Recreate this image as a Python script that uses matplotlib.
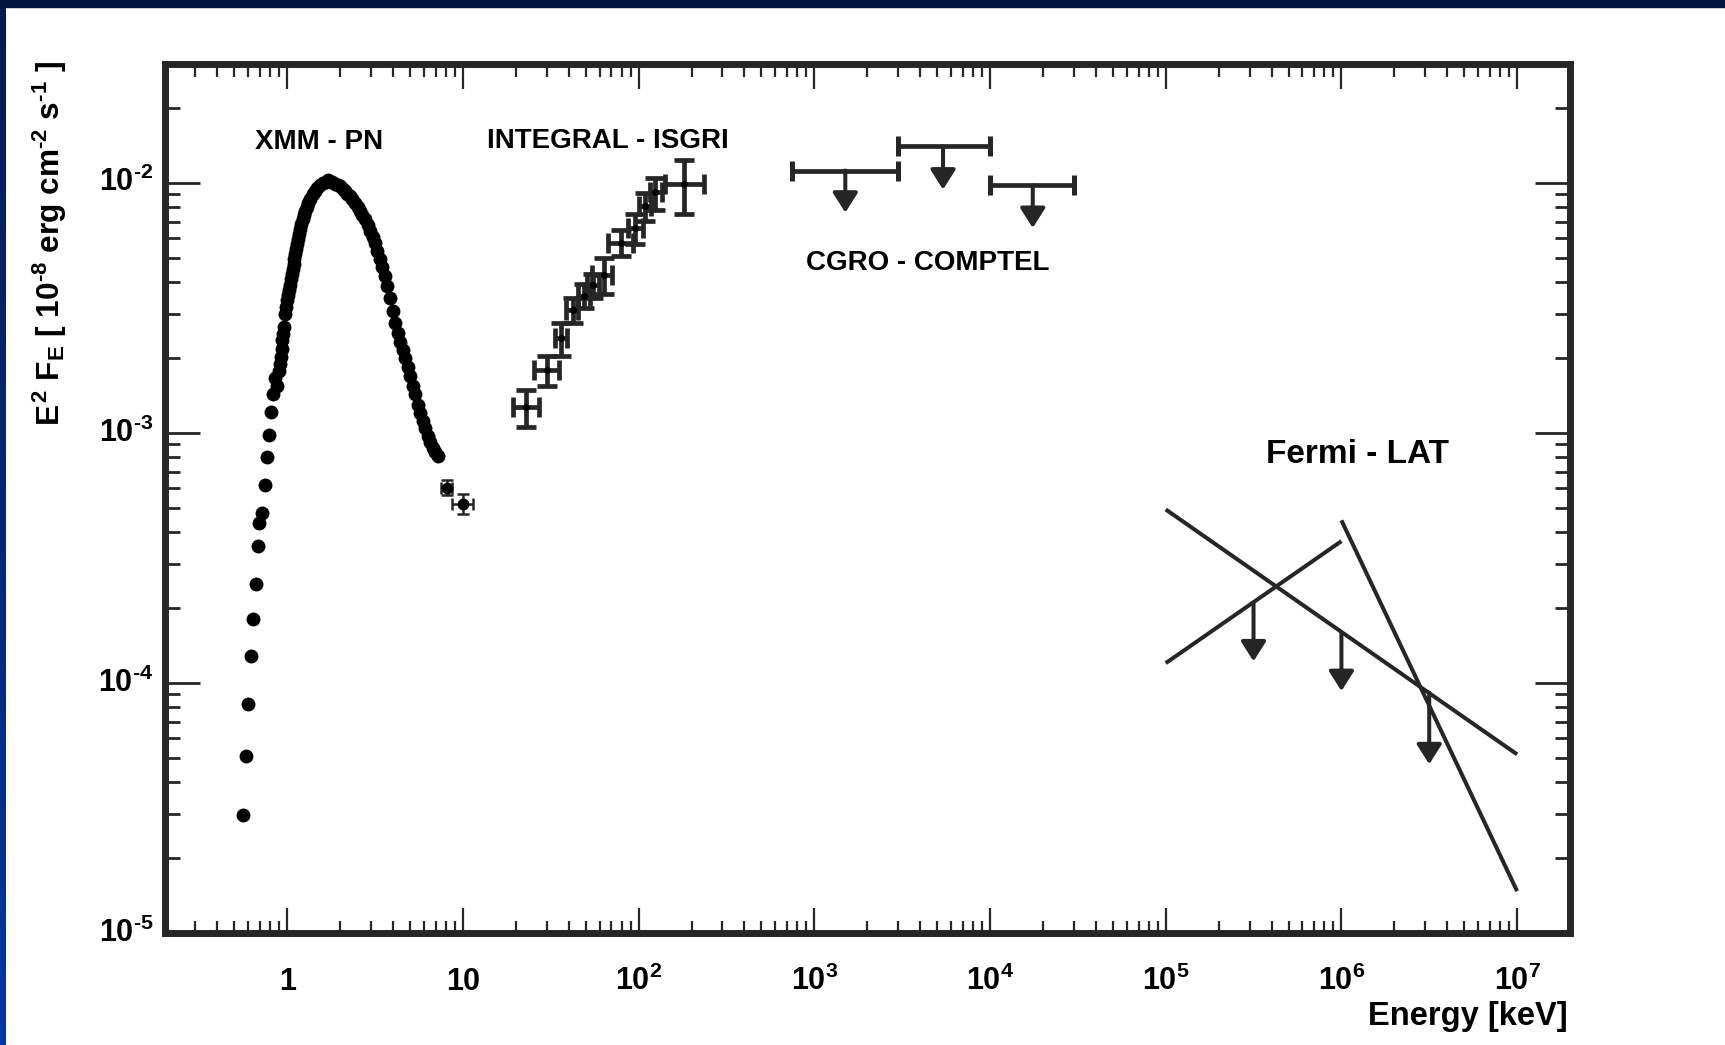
import numpy as np
import matplotlib
matplotlib.use('Agg')
from matplotlib import pyplot as plt
from matplotlib.ticker import LogLocator, NullFormatter, FixedLocator

plt.rcParams['font.family'] = ['Liberation Sans', 'DejaVu Sans']
plt.rcParams['font.weight'] = 'bold'
plt.rcParams['mathtext.fontset'] = 'custom'
plt.rcParams['mathtext.rm'] = 'Liberation Sans:bold'
plt.rcParams['mathtext.it'] = 'Liberation Sans:bold'
plt.rcParams['mathtext.bf'] = 'Liberation Sans:bold'
plt.rcParams['mathtext.sf'] = 'Liberation Sans:bold'

# XMM - PN spectrum (keV, E^2 F_E)
xmm_E = [0.562, 0.580, 0.600, 0.621, 0.640, 0.663, 0.684, 0.693, 0.715, 0.746,
         0.769, 0.790, 0.808, 0.826, 0.851, 0.877, 0.900, 0.911, 0.921, 0.928,
         0.937, 0.948, 0.958, 0.970, 0.984, 1.000, 1.013, 1.027, 1.039, 1.050,
         1.061, 1.073, 1.085, 1.096, 1.108, 1.121, 1.133, 1.146, 1.163, 1.181,
         1.201, 1.223, 1.241, 1.261, 1.288, 1.317, 1.355, 1.395, 1.438, 1.482,
         1.541, 1.603, 1.656, 1.712, 1.787, 1.868, 1.931, 1.995, 2.062, 2.130,
         2.201, 2.275, 2.350, 2.429, 2.510, 2.593, 2.679, 2.769, 2.861, 2.956,
         3.055, 3.156, 3.261, 3.370, 3.482, 3.598, 3.718, 3.842, 3.970, 4.103,
         4.239, 4.381, 4.527, 4.677, 4.833, 4.994, 5.161, 5.333, 5.511, 5.694,
         5.884, 6.080, 6.283, 6.492, 6.709, 6.932, 7.178]
xmm_F = [2.96e-5, 5.10e-5, 8.21e-5, 1.28e-4, 1.81e-4, 2.48e-4, 3.53e-4, 4.37e-4, 4.79e-4, 6.18e-4,
         8.00e-4, 9.77e-4, 1.21e-3, 1.43e-3, 1.661e-3, 1.539e-3, 1.766e-3, 1.884e-3, 2.014e-3, 2.173e-3,
         2.344e-3, 2.495e-3, 2.656e-3, 2.977e-3, 3.175e-3, 3.386e-3, 3.546e-3, 3.713e-3, 3.906e-3, 4.109e-3,
         4.302e-3, 4.505e-3, 4.717e-3, 4.940e-3, 5.172e-3, 5.416e-3, 5.671e-3, 5.938e-3, 6.218e-3, 6.511e-3,
         6.818e-3, 7.139e-3, 7.420e-3, 7.705e-3, 8.009e-3, 8.318e-3, 8.646e-3, 8.988e-3, 9.265e-3, 9.550e-3,
         9.772e-3, 1.000e-2, 1.011e-2, 1.022e-2, 1.006e-2, 9.908e-3, 9.809e-3, 9.701e-3, 9.480e-3, 9.265e-3,
         9.054e-3, 8.848e-3, 8.583e-3, 8.318e-3, 8.009e-3, 7.705e-3, 7.421e-3, 7.139e-3, 6.773e-3, 6.409e-3,
         6.076e-3, 5.755e-3, 5.356e-3, 4.977e-3, 4.623e-3, 4.236e-3, 3.864e-3, 3.459e-3, 3.069e-3, 2.748e-3,
         2.506e-3, 2.307e-3, 2.144e-3, 1.998e-3, 1.841e-3, 1.687e-3, 1.546e-3, 1.425e-3, 1.298e-3, 1.200e-3,
         1.120e-3, 1.048e-3, 9.755e-4, 9.230e-4, 8.735e-4, 8.381e-4, 8.078e-4]

# two last XMM bins with error bars
xmm2_E = [8.08, 10.04]
xmm2_Elo = [7.48, 8.63]
xmm2_Ehi = [8.71, 11.44]
xmm2_F = [6.03e-4, 5.18e-4]
xmm2_Flo = [5.62e-4, 4.72e-4]
xmm2_Fhi = [6.45e-4, 5.68e-4]

# INTEGRAL - ISGRI
isgri_E = [22.8, 30.0, 36.1, 42.1, 48.8, 55.2, 63.5, 79.0, 95.3, 108.6, 123.8, 181.1]
isgri_Elo = [19.3, 25.4, 33.4, 38.6, 45.3, 50.6, 54.0, 67.1, 87.3, 100.8, 116.0, 141.1]
isgri_Ehi = [27.0, 35.2, 39.2, 45.3, 52.8, 59.4, 70.8, 93.2, 106.2, 117.5, 135.2, 235.3]
isgri_F = [1.27e-3, 1.79e-3, 2.39e-3, 3.09e-3, 3.52e-3, 3.89e-3, 4.28e-3, 5.76e-3, 6.61e-3, 8.07e-3, 9.18e-3, 9.85e-3]
isgri_Flo = [1.06e-3, 1.54e-3, 2.03e-3, 2.76e-3, 3.16e-3, 3.47e-3, 3.60e-3, 5.09e-3, 5.67e-3, 7.03e-3, 7.76e-3, 7.47e-3]
isgri_Fhi = [1.49e-3, 2.03e-3, 2.76e-3, 3.47e-3, 3.93e-3, 4.30e-3, 5.01e-3, 6.45e-3, 7.48e-3, 9.12e-3, 1.05e-2, 1.23e-2]

# CGRO - COMPTEL upper limits
comptel_E = [1500, 5400, 17500]
comptel_Elo = [750, 3000, 10000]
comptel_Ehi = [3000, 10000, 30000]
comptel_F = [1.12e-2, 1.40e-2, 9.76e-3]
comptel_tip = [7.6e-3, 9.4e-3, 6.6e-3]

# Fermi - LAT power-law lines and upper limits
fermi_E1 = [1.0e5, 1.0e5, 1.0e6]
fermi_E2 = [1.0e7, 1.0e6, 1.0e7]
fermi_F1 = [4.94e-4, 1.20e-4, 4.47e-4]
fermi_F2 = [5.18e-5, 3.69e-4, 1.47e-5]
fermi_ul_E = [3.16e5, 1.0e6, 3.16e6]
fermi_ul_F = [2.09e-4, 1.59e-4, 9.14e-5]
fermi_ul_tip = [1.22e-4, 9.28e-5, 4.73e-5]

hy = '\u2010'  # plain hyphen for exponents, as in the original
x_ticks = [1, 10, 1e2, 1e3, 1e4, 1e5, 1e6, 1e7]
x_ticklabels = ['1', '10', r'$10^{2}$', r'$10^{3}$', r'$10^{4}$', r'$10^{5}$', r'$10^{6}$', r'$10^{7}$']
y_ticks = [1e-5, 1e-4, 1e-3, 1e-2]
y_ticklabels = ['$10^{%s5}$' % hy, '$10^{%s4}$' % hy, '$10^{%s3}$' % hy, '$10^{%s2}$' % hy]

ink = '#262626'
W, H = 1725, 1045

fig = plt.figure(figsize=(17.25, 10.45), dpi=100)
fig.patch.set_facecolor('white')

# dark border strips of the slide
fig.patches.append(plt.Rectangle((0, 1 - 7 / H), 1, 7 / H, transform=fig.transFigure,
                                 color='#00133f', zorder=0))
band = fig.add_axes([0, 0, 6 / W, 1 - 7 / H])
band.imshow(np.linspace(0, 1, 200).reshape(-1, 1), aspect='auto',
            cmap=matplotlib.colors.LinearSegmentedColormap.from_list('b', ['#081a4e', '#0036a6']))
band.axis('off')

ax = fig.add_axes([164.5 / W, 1 - 933 / H, (1570 - 164.5) / W, (933 - 63.5) / H])
ax.set_xscale('log')
ax.set_yscale('log')
ax.set_xlim(0.2, 2e7)
ax.set_ylim(1e-5, 3e-2)

for s in ax.spines.values():
    s.set_linewidth(5)
    s.set_color(ink)

# XMM
ax.plot(xmm_E, xmm_F, 'o', color='black', ms=10, mew=0, zorder=3)
ax.errorbar(xmm2_E, xmm2_F,
            xerr=[np.subtract(xmm2_E, xmm2_Elo), np.subtract(xmm2_Ehi, xmm2_E)],
            yerr=[np.subtract(xmm2_F, xmm2_Flo), np.subtract(xmm2_Fhi, xmm2_F)],
            fmt='o', color='black', ecolor=ink, ms=7.5, elinewidth=1.8, capsize=4, capthick=1.8)

# ISGRI
ax.errorbar(isgri_E, isgri_F,
            xerr=[np.subtract(isgri_E, isgri_Elo), np.subtract(isgri_Ehi, isgri_E)],
            yerr=[np.subtract(isgri_F, isgri_Flo), np.subtract(isgri_Fhi, isgri_F)],
            fmt='o', color='black', ecolor=ink, ms=4, elinewidth=3.4, capsize=7, capthick=3.4)

# COMPTEL upper limits
ax.errorbar(comptel_E, comptel_F,
            xerr=[np.subtract(comptel_E, comptel_Elo), np.subtract(comptel_Ehi, comptel_E)],
            fmt='none', ecolor=ink, elinewidth=3.4, capsize=7, capthick=3.6)
head = dict(arrowstyle='-|>,head_length=0.6,head_width=0.38', mutation_scale=20,
            color=ink, lw=2.9, shrinkA=0, shrinkB=0)
for e, f, t in zip(comptel_E, comptel_F, comptel_tip):
    ax.annotate('', xy=(e, t), xytext=(e, f), arrowprops=head)

# Fermi
for e1, e2, f1, f2 in zip(fermi_E1, fermi_E2, fermi_F1, fermi_F2):
    ax.plot([e1, e2], [f1, f2], color=ink, lw=2.9, solid_capstyle='butt')
for e, f, t in zip(fermi_ul_E, fermi_ul_F, fermi_ul_tip):
    ax.annotate('', xy=(e, t), xytext=(e, f), arrowprops=head)

# labels inside plot
ax.text(1.52, 1.36e-2, 'XMM - PN', ha='center', va='baseline', fontsize=20, fontweight='bold')
ax.text(66.4, 1.38e-2, 'INTEGRAL - ISGRI', ha='center', va='baseline', fontsize=20, fontweight='bold')
ax.text(4400, 4.46e-3, 'CGRO - COMPTEL', ha='center', va='baseline', fontsize=20, fontweight='bold')
ax.text(1.24e6, 7.59e-4, 'Fermi - LAT', ha='center', va='baseline', fontsize=24, fontweight='bold')

# ticks
ax.xaxis.set_major_locator(FixedLocator(x_ticks))
ax.xaxis.set_minor_locator(LogLocator(base=10, subs=np.arange(2, 10), numticks=50))
ax.yaxis.set_major_locator(FixedLocator(y_ticks))
ax.yaxis.set_minor_locator(LogLocator(base=10, subs=np.arange(2, 10), numticks=50))
ax.xaxis.set_minor_formatter(NullFormatter())
ax.yaxis.set_minor_formatter(NullFormatter())
ax.set_xticks(x_ticks, x_ticklabels)
ax.set_yticks(y_ticks, y_ticklabels)
ax.tick_params(axis='both', which='both', direction='in', top=True, right=True, color=ink)
ax.tick_params(axis='x', which='major', length=18, width=1.6, pad=41, labelsize=22)
ax.tick_params(axis='x', which='minor', length=9, width=1.6)
ax.tick_params(axis='y', which='major', length=25, width=2, pad=8, labelsize=22)
ax.tick_params(axis='y', which='minor', length=11, width=2)
for lab in ax.get_xticklabels():
    lab.set_verticalalignment('baseline')
    lab.set_fontweight('bold')
for lab in ax.get_yticklabels():
    lab.set_verticalalignment('center')

fig.text(1568 / W, 1 - 1025 / H, 'Energy [keV]', ha='right', va='baseline', fontsize=23.5,
         fontweight='bold')
fig.text(50 / W, 1 - 61 / H,
         '$E^{2}\\ F_{E}$ [ $10^{%s8}$ erg cm$^{%s2}$ s$^{%s1}$ ]' % (hy, hy, hy),
         rotation=90, ha='center', va='top', fontsize=22.8, fontweight='bold')

plt.savefig('out.png', dpi=100)
